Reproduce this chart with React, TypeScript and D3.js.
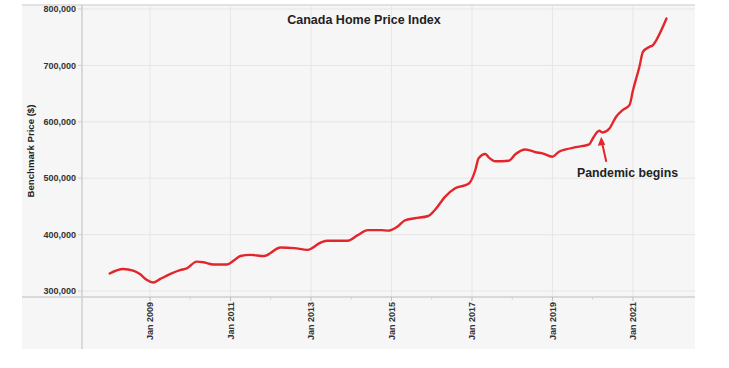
import { useEffect, useRef } from "react";
import * as d3 from "d3";

// benchmark price (month, dollars)
const months = [
  "2008-01", "2008-05", "2008-08", "2008-10", "2008-12", "2009-02", "2009-04", "2009-07",
  "2009-10", "2009-12", "2010-03", "2010-05", "2010-08", "2010-12", "2011-02", "2011-04",
  "2011-07", "2011-11", "2012-04", "2012-08", "2012-12", "2013-04", "2013-06", "2013-12",
  "2014-03", "2014-06", "2014-10", "2014-12", "2015-03", "2015-05", "2015-08", "2015-12",
  "2016-02", "2016-05", "2016-08", "2016-12", "2017-02", "2017-03", "2017-05", "2017-06",
  "2017-08", "2017-12", "2018-02", "2018-05", "2018-08", "2018-10", "2019-01", "2019-03",
  "2019-05", "2019-08", "2019-12", "2020-01", "2020-03", "2020-04", "2020-06", "2020-08",
  "2020-10", "2020-12", "2021-01", "2021-03", "2021-04", "2021-06", "2021-07", "2021-08",
  "2021-11"
];
const prices = [
  331000, 339000, 336000, 330000, 320000, 315000, 321000, 330000,
  337000, 340000, 352000, 351000, 347000, 347000, 354000, 362000,
  364000, 362000, 377000, 376000, 373000, 386000, 389000, 389000,
  399000, 408000, 408000, 407000, 415000, 425000, 429000, 433000,
  444000, 467000, 482000, 490000, 515000, 535000, 543000, 537000,
  530000, 531000, 543000, 551000, 546000, 544000, 538000, 547000,
  551000, 555000, 560000, 570000, 584000, 581000, 588000, 609000,
  621000, 630000, 656000, 698000, 724000, 733000, 736000, 745000,
  783000
];
const yTicks = [300000, 400000, 500000, 600000, 700000, 800000];
const xTickYears = [2009, 2011, 2013, 2015, 2017, 2019, 2021];
const xMinorYears = [2010, 2012, 2014, 2016, 2018, 2020];
const pandemicMonth = "2020-03";

export default function App() {
  const ref = useRef<SVGSVGElement>(null);

  useEffect(() => {
    const width = 729;
    const height = 368;
    const bgLeft = 22, bgTop = 4, bgRight = 695, bgBottom = 349;
    const axisX = 82;
    const axisY = 297;
    const red = "#e3262b";
    const font = "'Liberation Sans', Arial, sans-serif";

    const parse = d3.utcParse("%Y-%m");
    const data = months.map((m, i) => ({ date: parse(m)!, value: prices[i] }));

    const svg = d3.select(ref.current);
    svg.selectAll("*").remove();
    svg.attr("width", width).attr("height", height)
      .attr("viewBox", [0, 0, width, height])
      .style("font-family", font);

    const x = d3.scaleUtc()
      .domain([new Date(Date.UTC(2009, 0, 1)), new Date(Date.UTC(2021, 0, 1))])
      .range([150, 633]);
    const y = d3.scaleLinear().domain([300000, 800000]).range([291, 9]);

    // plot background
    svg.append("rect")
      .attr("x", bgLeft).attr("y", bgTop)
      .attr("width", bgRight - bgLeft).attr("height", bgBottom - bgTop)
      .attr("fill", "#f6f6f6");
    svg.append("line")
      .attr("x1", bgLeft).attr("x2", bgRight).attr("y1", bgTop + 1).attr("y2", bgTop + 1)
      .attr("stroke", "#e2e2e2").attr("stroke-width", 2);

    // gridlines
    svg.append("g").selectAll("line").data(yTicks).join("line")
      .attr("x1", axisX).attr("x2", bgRight)
      .attr("y1", d => y(d)).attr("y2", d => y(d))
      .attr("stroke", "#e6e6e6").attr("stroke-width", 1);
    svg.append("g").selectAll("line").data(xTickYears).join("line")
      .attr("x1", d => x(new Date(Date.UTC(d, 0, 1))))
      .attr("x2", d => x(new Date(Date.UTC(d, 0, 1))))
      .attr("y1", bgTop + 2).attr("y2", axisY)
      .attr("stroke", "#e6e6e6").attr("stroke-width", 1);

    // axis lines
    svg.append("line")
      .attr("x1", axisX).attr("x2", axisX).attr("y1", bgTop + 1).attr("y2", bgBottom)
      .attr("stroke", "#cfcfcf").attr("stroke-width", 1.5);
    svg.append("line")
      .attr("x1", bgLeft).attr("x2", bgRight).attr("y1", axisY).attr("y2", axisY)
      .attr("stroke", "#cfcfcf").attr("stroke-width", 1.5);

    // y ticks and labels
    const fmt = d3.format(",");
    const yt = svg.append("g").selectAll("g").data(yTicks).join("g")
      .attr("transform", d => `translate(0,${y(d)})`);
    yt.append("line").attr("x1", axisX - 4).attr("x2", axisX)
      .attr("stroke", "#cfcfcf");
    yt.append("text")
      .attr("x", axisX - 6).attr("dy", "0.35em")
      .attr("text-anchor", "end")
      .attr("font-size", 9).attr("font-weight", "bold").attr("fill", "#333")
      .text(d => fmt(d));

    // x ticks and labels
    const xt = svg.append("g").selectAll("g").data(xTickYears).join("g")
      .attr("transform", d => `translate(${x(new Date(Date.UTC(d, 0, 1)))},${axisY})`);
    xt.append("line").attr("y1", 0).attr("y2", 4).attr("stroke", "#bdbdbd");
    xt.append("text")
      .attr("transform", "translate(0,5) rotate(-90)")
      .attr("dy", "0.35em")
      .attr("text-anchor", "end")
      .attr("font-size", 9).attr("font-weight", "bold").attr("fill", "#333")
      .text(d => `Jan ${d}`);
    svg.append("g").selectAll("line").data(xMinorYears).join("line")
      .attr("x1", d => x(new Date(Date.UTC(d, 0, 1))))
      .attr("x2", d => x(new Date(Date.UTC(d, 0, 1))))
      .attr("y1", axisY).attr("y2", axisY + 2.5)
      .attr("stroke", "#cfcfcf");

    // y axis title
    svg.append("text")
      .attr("transform", "translate(31,151) rotate(-90)")
      .attr("dy", "0.35em")
      .attr("text-anchor", "middle")
      .attr("font-size", 9.6).attr("font-weight", "bold").attr("fill", "#222")
      .text("Benchmark Price ($)");

    // chart title
    svg.append("text")
      .attr("x", 364).attr("y", 24)
      .attr("text-anchor", "middle")
      .attr("font-size", 12.5).attr("font-weight", "bold").attr("fill", "#222")
      .text("Canada Home Price Index");

    // price line
    svg.append("path")
      .datum(data)
      .attr("fill", "none")
      .attr("stroke", red)
      .attr("stroke-width", 2.4)
      .attr("stroke-linejoin", "round")
      .attr("stroke-linecap", "round")
      .attr("d", d3.line<{ date: Date; value: number }>()
        .x(d => x(d.date))
        .y(d => y(d.value))
        .curve(d3.curveMonotoneX));

    // annotation
    const p = data.find(d => months[data.indexOf(d)] === pandemicMonth)!;
    const tipX = x(p.date) + 2;
    const tipY = y(p.value) + 6;
    svg.append("line")
      .attr("x1", tipX + 5).attr("y1", tipY + 25)
      .attr("x2", tipX + 1).attr("y2", tipY + 7)
      .attr("stroke", red).attr("stroke-width", 2);
    svg.append("path")
      .attr("d", `M${tipX},${tipY} L${tipX - 3.5},${tipY + 9} L${tipX + 4},${tipY + 8} Z`)
      .attr("fill", red);
    svg.append("text")
      .attr("x", 577).attr("y", 177)
      .attr("font-size", 12.3).attr("font-weight", "bold").attr("fill", "#222")
      .text("Pandemic begins");
  }, []);

  return <svg ref={ref} style={{ position: "absolute", left: 0, top: 0 }}></svg>;
}
